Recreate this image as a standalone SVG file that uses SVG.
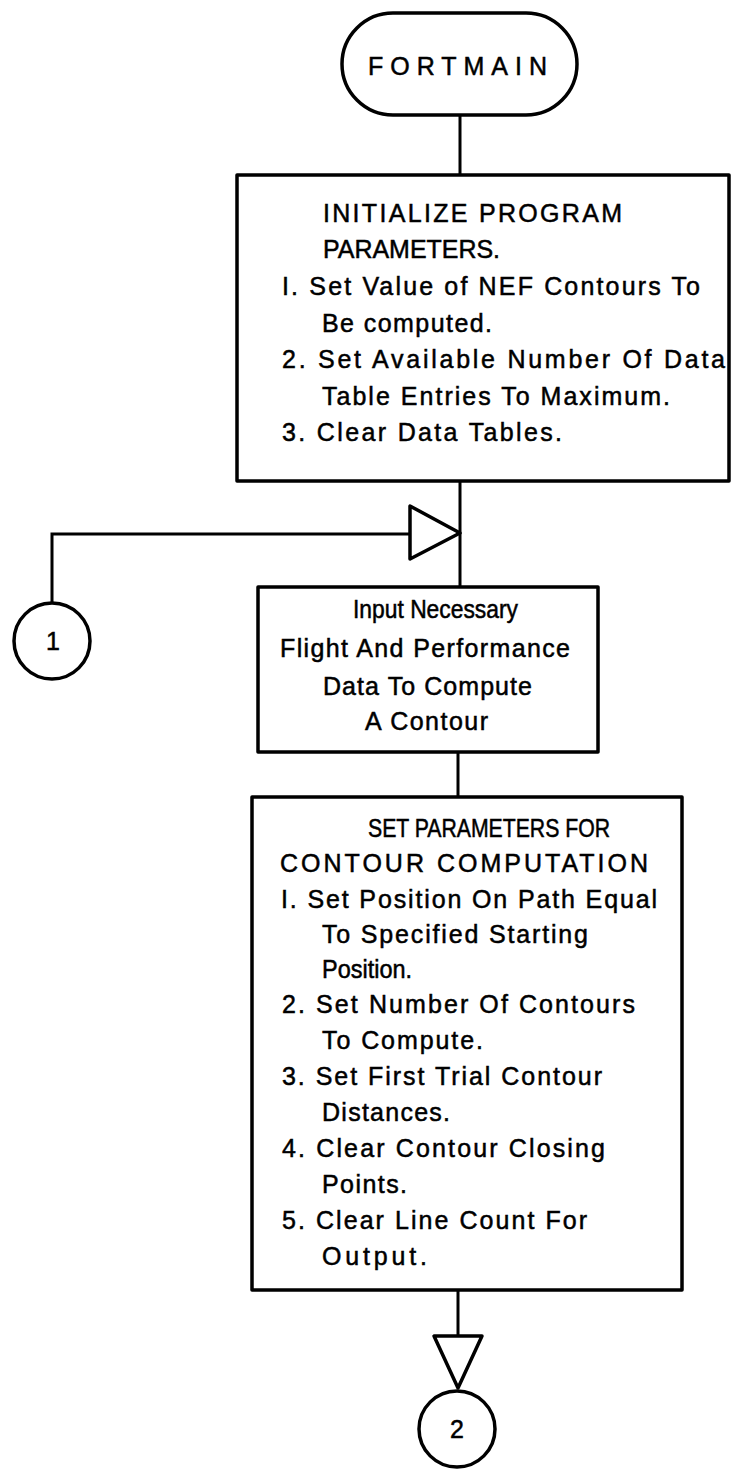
<svg xmlns="http://www.w3.org/2000/svg" width="731" height="1471" viewBox="0 0 731 1471">
<style>
.sh{fill:#fff;stroke:#000;stroke-width:3.5;stroke-linejoin:round}
.ln{fill:none;stroke:#000;stroke-width:3}
.tri{fill:#fff;stroke:#000;stroke-width:3.5;stroke-linejoin:round}
text{font-family:"Liberation Sans","DejaVu Sans",sans-serif;font-size:25px;fill:#000;stroke:#000;stroke-width:0.5}
</style>
<rect width="731" height="1471" fill="#fff"/>
<g id="connectors">
<line class="ln" x1="460" y1="115" x2="460" y2="175"/>
<line class="ln" x1="460" y1="481" x2="460" y2="587"/>
<polyline class="ln" points="410,534 52,534 52,603"/>
<polygon class="tri" points="410,506 410,559 460,533"/>
<line class="ln" x1="458" y1="752" x2="458" y2="797"/>
<line class="ln" x1="458" y1="1290" x2="458" y2="1336"/>
<polygon class="tri" points="434,1336 482,1336 458,1388"/>
</g>
<g id="fortmain">
<rect class="sh" x="342" y="13" width="235" height="102" rx="51"/>
<text x="368" y="75" textLength="179" lengthAdjust="spacing">FORTMAIN</text>
</g>
<g id="init">
<rect class="sh" x="237" y="175" width="492" height="306"/>
<text x="323" y="222" textLength="299" lengthAdjust="spacing">INITIALIZE PROGRAM</text>
<text x="323" y="258" textLength="177" lengthAdjust="spacingAndGlyphs">PARAMETERS.</text>
<text x="282" y="295" textLength="418" lengthAdjust="spacing">I. Set Value of NEF Contours To</text>
<text x="322" y="332" textLength="170" lengthAdjust="spacing">Be computed.</text>
<text x="282" y="368" textLength="443" lengthAdjust="spacing">2. Set Available Number Of Data</text>
<text x="322" y="405" textLength="348" lengthAdjust="spacing">Table Entries To Maximum.</text>
<text x="282" y="441" textLength="280" lengthAdjust="spacing">3. Clear Data Tables.</text>
</g>
<g id="conn1">
<circle class="sh" cx="52" cy="641" r="38"/>
<text x="53" y="650" text-anchor="middle">1</text>
</g>
<g id="input">
<rect class="sh" x="258" y="587" width="340" height="165"/>
<text x="353" y="618" textLength="165" lengthAdjust="spacingAndGlyphs">Input Necessary</text>
<text x="280" y="657" textLength="290" lengthAdjust="spacing">Flight And Performance</text>
<text x="323" y="695" textLength="209" lengthAdjust="spacing">Data To Compute</text>
<text x="365" y="730" textLength="123" lengthAdjust="spacing">A Contour</text>
</g>
<g id="setparams">
<rect class="sh" x="252" y="797" width="430" height="493"/>
<text x="368" y="837" textLength="242" lengthAdjust="spacingAndGlyphs">SET PARAMETERS FOR</text>
<text x="280" y="872" textLength="368" lengthAdjust="spacing">CONTOUR COMPUTATION</text>
<text x="281" y="908" textLength="376" lengthAdjust="spacing">I. Set Position On Path Equal</text>
<text x="322" y="943" textLength="266" lengthAdjust="spacing">To Specified Starting</text>
<text x="322" y="978" textLength="90" lengthAdjust="spacingAndGlyphs">Position.</text>
<text x="282" y="1013" textLength="353" lengthAdjust="spacing">2. Set Number Of Contours</text>
<text x="322" y="1049" textLength="161" lengthAdjust="spacing">To Compute.</text>
<text x="282" y="1085" textLength="320" lengthAdjust="spacing">3. Set First Trial Contour</text>
<text x="322" y="1121" textLength="128" lengthAdjust="spacing">Distances.</text>
<text x="282" y="1157" textLength="323" lengthAdjust="spacing">4. Clear Contour Closing</text>
<text x="322" y="1193" textLength="85" lengthAdjust="spacing">Points.</text>
<text x="282" y="1229" textLength="305" lengthAdjust="spacing">5. Clear Line Count For</text>
<text x="322" y="1265" textLength="105" lengthAdjust="spacing">Output.</text>
</g>
<g id="conn2">
<circle class="sh" cx="457" cy="1429" r="38"/>
<text x="457" y="1438" text-anchor="middle">2</text>
</g>
</svg>
